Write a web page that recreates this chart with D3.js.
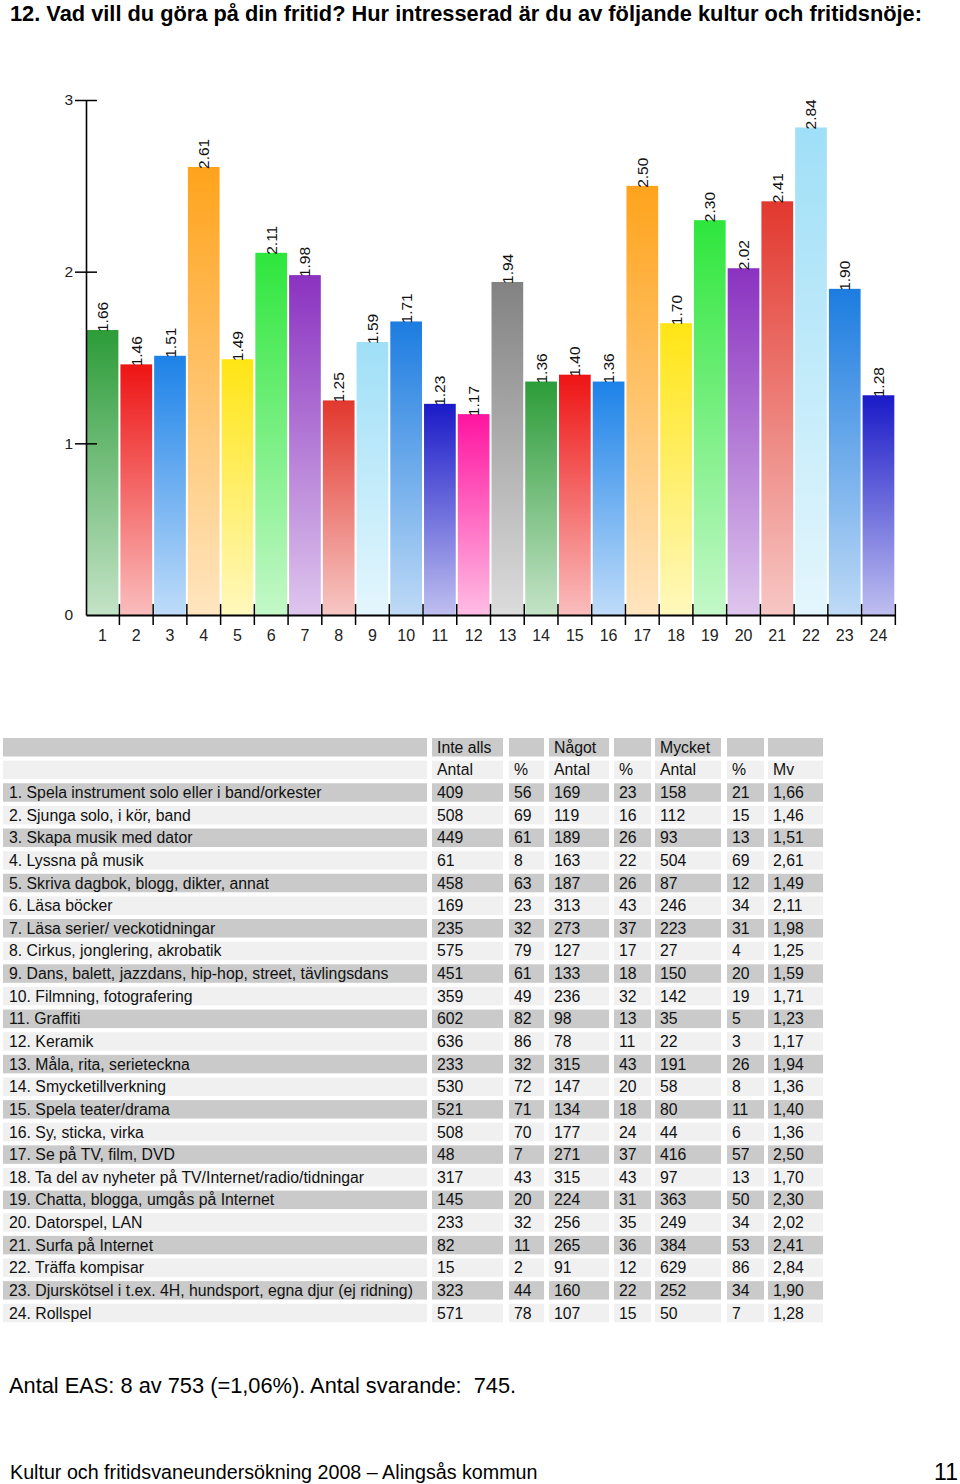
<!DOCTYPE html>
<html><head><meta charset="utf-8">
<script src="https://cdn.jsdelivr.net/npm/d3@7"></script>
<style>
body{margin:0;background:#fff;}
svg{display:block;font-family:"Liberation Sans",Arial,sans-serif;}
</style></head>
<body>
<svg id="c" width="960" height="1484"></svg>
<script>
const title = "12. Vad vill du göra på din fritid? Hur intresserad är du av följande kultur och fritidsnöje:";
const items = [
 "1. Spela instrument solo eller i band/orkester",
 "2. Sjunga solo, i kör, band",
 "3. Skapa musik med dator",
 "4. Lyssna på musik",
 "5. Skriva dagbok, blogg, dikter, annat",
 "6. Läsa böcker",
 "7. Läsa serier/ veckotidningar",
 "8. Cirkus, jonglering, akrobatik",
 "9. Dans, balett, jazzdans, hip-hop, street, tävlingsdans",
 "10. Filmning, fotografering",
 "11. Graffiti",
 "12. Keramik",
 "13. Måla, rita, serieteckna",
 "14. Smycketillverkning",
 "15. Spela teater/drama",
 "16. Sy, sticka, virka",
 "17. Se på TV, film, DVD",
 "18. Ta del av nyheter på TV/Internet/radio/tidningar",
 "19. Chatta, blogga, umgås på Internet",
 "20. Datorspel, LAN",
 "21. Surfa på Internet",
 "22. Träffa kompisar",
 "23. Djurskötsel i t.ex. 4H, hundsport, egna djur (ej ridning)",
 "24. Rollspel"
];
const inteAllsAntal = [409,508,449,61,458,169,235,575,451,359,602,636,233,530,521,508,48,317,145,233,82,15,323,571];
const inteAllsPct   = [56,69,61,8,63,23,32,79,61,49,82,86,32,72,71,70,7,43,20,32,11,2,44,78];
const nagotAntal    = [169,119,189,163,187,313,273,127,133,236,98,78,315,147,134,177,271,315,224,256,265,91,160,107];
const nagotPct      = [23,16,26,22,26,43,37,17,18,32,13,11,43,20,18,24,37,43,31,35,36,12,22,15];
const mycketAntal   = [158,112,93,504,87,246,223,27,150,142,35,22,191,58,80,44,416,97,363,249,384,629,252,50];
const mycketPct     = [21,15,13,69,12,34,31,4,20,19,5,3,26,8,11,6,57,13,50,34,53,86,34,7];
const mv            = [1.66,1.46,1.51,2.61,1.49,2.11,1.98,1.25,1.59,1.71,1.23,1.17,1.94,1.36,1.40,1.36,2.50,1.70,2.30,2.02,2.41,2.84,1.90,1.28];
const barColors = ["#2c9c38","#ee1414","#1c82e8","#ffa31c","#ffe514","#2ee63c","#8a32c0","#e2382e","#9fdff7","#1c7ce0","#1a1ac8","#ff14a0","#828282"];
const yTicks = [0,1,2,3];
const headerGroups = ["", "Inte alls", "", "Något", "", "Mycket", "", ""];
const headerSub = ["", "Antal", "%", "Antal", "%", "Antal", "%", "Mv"];
const footnote = "Antal EAS: 8 av 753 (=1,06%). Antal svarande:  745.";
const footerText = "Kultur och fritidsvaneundersökning 2008 – Alingsås kommun";
const pageNo = "11";

const svg = d3.select("#c");

// title
svg.append("text").attr("x",10).attr("y",21).attr("font-size",21.8).attr("font-weight","bold")
  .attr("fill","#000").text(title);

// chart
const x = d3.scaleBand().domain(d3.range(1,25)).range([86,895]).paddingInner(0.06).paddingOuter(0.02);
const y = d3.scaleLinear().domain([0,3]).range([615,100]);
const defs = svg.append("defs");
mv.forEach((v,i)=>{
  const c = barColors[i % barColors.length];
  const g = defs.append("linearGradient").attr("id","g"+i).attr("x1",0).attr("y1",0).attr("x2",0).attr("y2",1);
  g.append("stop").attr("offset","0%").attr("stop-color",c);
  g.append("stop").attr("offset","100%").attr("stop-color",d3.interpolateRgb(c,"#fff")(0.72));
});
const bars = svg.append("g");
bars.selectAll("rect").data(mv).join("rect")
  .attr("x",(d,i)=>x(i+1)).attr("width",x.bandwidth())
  .attr("y",d=>y(d)).attr("height",d=>y(0)-y(d))
  .attr("fill",(d,i)=>`url(#g${i})`);
bars.selectAll("text").data(mv).join("text")
  .attr("transform",(d,i)=>`translate(${x(i+1)+x.bandwidth()/2+5.5},${y(d)+2}) rotate(-90)`)
  .attr("font-size",15.5).attr("fill","#111").text(d=>d.toFixed(2));

// y axis
const ya = svg.append("g").attr("transform","translate(86,0)")
  .call(d3.axisLeft(y).tickValues(yTicks).tickFormat(d3.format("d")).tickSize(0).tickPadding(13));
ya.select(".domain").attr("stroke","#000").attr("stroke-width",1.6);
ya.selectAll(".tick text").attr("font-size",15.5).attr("fill","#222").attr("font-family","Liberation Sans, Arial");
ya.selectAll(".tick").filter(d=>d>0).append("line").attr("x1",-11).attr("x2",11).attr("stroke","#000").attr("stroke-width",1.5);

// x axis
const xa = svg.append("g").attr("transform","translate(0,615)")
  .call(d3.axisBottom(x).tickSize(0).tickPadding(15));
xa.select(".domain").attr("stroke","#000").attr("stroke-width",1.8);
xa.selectAll(".tick text").attr("font-size",16).attr("fill","#222").attr("font-family","Liberation Sans, Arial");
xa.selectAll(".sep").data(d3.range(1,25)).join("line").attr("class","sep")
  .attr("x1",d=>x(d)+x.bandwidth()+ (x.step()-x.bandwidth())/2).attr("x2",d=>x(d)+x.bandwidth()+(x.step()-x.bandwidth())/2)
  .attr("y1",-11).attr("y2",10).attr("stroke","#000").attr("stroke-width",1.5);

// table
const cols = [[3,424],[432,71],[509,35],[549,60],[614,37],[655,66],[727,37],[768,55]];
const rowTop = i => 738 + i*22.63;
const dark = "#cacaca", light = "#f0f0f0";
const rows = [];
rows.push({fill:dark, cells:headerGroups});
rows.push({fill:light, cells:headerSub});
items.forEach((t,i)=>{
  rows.push({fill: i%2===0 ? dark : light,
    cells:[t, inteAllsAntal[i], inteAllsPct[i], nagotAntal[i], nagotPct[i], mycketAntal[i], mycketPct[i], mv[i].toFixed(2).replace(".",",")]});
});
const tg = svg.append("g");
rows.forEach((r,ri)=>{
  const g = tg.append("g").attr("transform",`translate(0,${rowTop(ri)})`);
  g.selectAll("rect").data(cols).join("rect")
    .attr("x",c=>c[0]).attr("width",c=>c[1]).attr("y",0).attr("height",18.5).attr("fill",r.fill);
  g.selectAll("text").data(r.cells).join("text")
    .attr("x",(d,ci)=>cols[ci][0]+ (ci===0?6:5)).attr("y",14.8)
    .attr("font-size",15.8).attr("fill","#111").text(d=>d);
});

// footnotes
svg.append("text").attr("x",9).attr("y",1393).attr("font-size",21.8).attr("fill","#000")
  .style("white-space","pre").attr("xml:space","preserve").text(footnote);
svg.append("text").attr("x",10).attr("y",1479).attr("font-size",19.7).attr("fill","#000").text(footerText);
svg.append("text").attr("x",958).attr("y",1480).attr("text-anchor","end").attr("font-size",23).attr("fill","#000").text(pageNo);
</script>
</body></html>
